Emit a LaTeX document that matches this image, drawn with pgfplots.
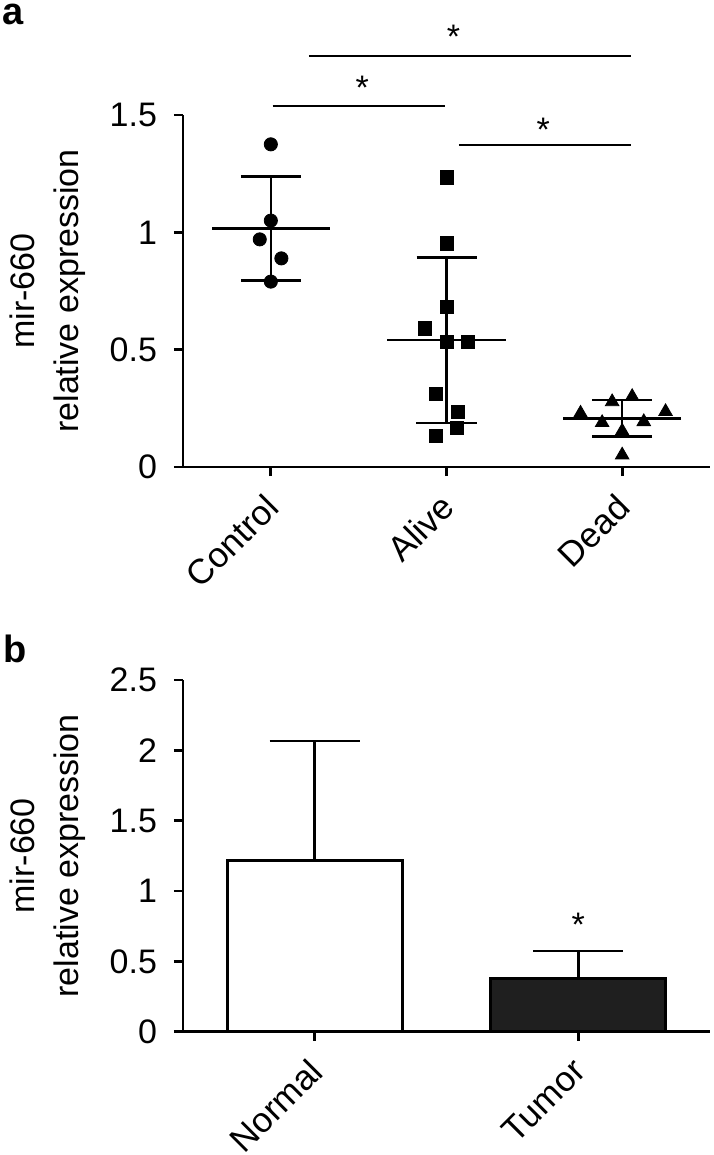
\documentclass[border=0pt]{standalone}
\usepackage{fontspec}
\setmainfont{Liberation Sans}
\usepackage{pgfplots}
\pgfplotsset{compat=1.18}

\pgfplotsset{
  panel/.style={
    scale only axis, width=263.5pt,
    axis x line*=bottom, axis y line*=left,
    axis line style={line width=1.35pt},
    tick style={line width=1.35pt, black},
    tick align=outside, major tick length=4.5pt,
    /pgf/number format/assume math mode=true,
    yticklabel style={font=\fontsize{17}{20}\selectfont, xshift=-5pt},
    xticklabel style={font=\fontsize{17.5}{20}\selectfont, xshift=-4pt, yshift=-3pt,
      rotate=45, anchor=north east},
    every axis y label/.style={at={(axis description cs:-0.257,0.5)}, rotate=90,
      anchor=center, align=center, font=\fontsize{17}{22}\selectfont},
    clip=false,
  },
}
\tikzset{sigstar/.style={font=\fontsize{17}{20}\selectfont, anchor=base, yshift=-8pt}}

\begin{document}
\begin{tikzpicture}
\path[use as bounding box] (-91.5pt,-344pt) rectangle (265pt,233.5pt);

% panel a: scatter with mean +- SD
\begin{axis}[panel, at={(0,0)}, anchor=south west, height=176pt,
  xmin=-0.5, xmax=2.5, ymin=0, ymax=1.5,
  xtick={0,1,2}, xticklabels={Control,Alive,Dead},
  ytick={0,0.5,1,1.5},
  ylabel={mir-660\\relative expression}]
\addplot[only marks, mark=*, mark size=3.3pt, black] coordinates {
  (0,1.375) (0,1.05) (-0.063,0.97) (0.06,0.889) (0,0.79)};
\addplot[only marks, mark=square*, mark size=3.3pt, black] coordinates {
  (1,1.234) (1,0.953) (1,0.683) (0.876,0.591) (1,0.534) (1.124,0.534)
  (0.94,0.31) (1.067,0.236) (1.06,0.165) (0.94,0.132)};
\addplot[only marks, mark=triangle*, mark size=3.9pt, black] coordinates {
  (1.943,0.278) (2.057,0.30) (1.763,0.229) (2.247,0.236)
  (1.886,0.189) (2.123,0.193) (2,0.153) (2,0.051)};
\addplot[only marks, mark=-, mark size=29.5pt, black,
  mark options={line width=1.3pt},
  error bars/.cd, y dir=both, y explicit,
  error bar style={line width=1.3pt, black},
  error mark options={rotate=90, line width=1.3pt, mark size=15pt, black}]
  coordinates {(0,1.017) +- (0,0.222) (1,0.541) +- (0,0.353) (2,0.207) +- (0,0.078)};
% significance brackets
\draw[line width=1.2pt] (axis cs:0.217,1.751) -- (axis cs:2.05,1.751);
\draw[line width=1.2pt] (axis cs:0.01,1.539) -- (axis cs:0.99,1.539);
\draw[line width=1.2pt] (axis cs:1.07,1.372) -- (axis cs:2.05,1.372);
\node[sigstar] at (axis cs:1.04,1.853) {*};
\node[sigstar] at (axis cs:0.52,1.636) {*};
\node[sigstar] at (axis cs:1.55,1.457) {*};
\end{axis}
\node[anchor=base west, inner sep=0pt, font=\fontsize{19}{22}\selectfont\bfseries] at (-90.5pt,221pt) {a};

% panel b: bars
\begin{axis}[panel, at={(0,-282.35pt)}, anchor=south west, height=175.85pt,
  xmin=-0.5, xmax=1.5, ymin=0, ymax=2.5,
  xtick={0,1}, xticklabels={Normal,Tumor},
  ytick={0,0.5,1,1.5,2,2.5},
  ylabel={mir-660\\relative expression},
  ybar, bar width=87.5pt]
\addplot[bar shift=0pt, fill=white, draw=black, line width=1.4pt,
  error bars/.cd, y dir=plus, y explicit,
  error bar style={line width=1.4pt, black},
  error mark options={rotate=90, line width=1.4pt, mark size=22.5pt, black}]
  coordinates {(0,1.215) +- (0,0.851)};
\addplot[bar shift=0pt, fill=black!88, draw=black, line width=1.4pt,
  error bars/.cd, y dir=plus, y explicit,
  error bar style={line width=1.4pt, black},
  error mark options={rotate=90, line width=1.4pt, mark size=22.5pt, black}]
  coordinates {(1,0.379) +- (0,0.194)};
\node[sigstar] at (axis cs:1,0.79) {*};
\end{axis}
\node[anchor=base west, inner sep=0pt, font=\fontsize{19}{22}\selectfont\bfseries] at (-90pt,-97.5pt) {b};
\end{tikzpicture}
\end{document}
